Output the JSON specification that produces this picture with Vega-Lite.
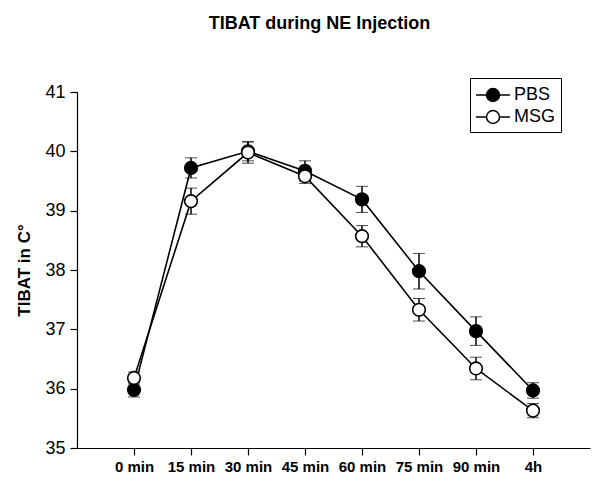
{
  "$schema": "https://vega.github.io/schema/vega-lite/v6.json",
  "width": 513,
  "height": 356,
  "autosize": {"type": "none"},
  "padding": {"left": 77, "top": 92, "right": 11, "bottom": 36},
  "background": "white",
  "title": {"text": "TIBAT during NE Injection", "fontSize": 18, "fontWeight": "bold", "font": "Liberation Sans", "color": "black", "anchor": "middle", "offset": 45, "dx": -14},
  "config": {
    "font": "Liberation Sans",
    "view": {"stroke": null},
    "axis": {"grid": false, "domainColor": "black", "tickColor": "black", "labelColor": "black", "titleColor": "black", "domainWidth": 1.2, "tickWidth": 1.2}
  },
  "data": {"values": [
    {"time": "0 min", "group": "PBS", "mean": 35.98, "sem": 0.12},
    {"time": "15 min", "group": "PBS", "mean": 39.72, "sem": 0.17},
    {"time": "30 min", "group": "PBS", "mean": 40.0, "sem": 0.16},
    {"time": "45 min", "group": "PBS", "mean": 39.67, "sem": 0.17},
    {"time": "60 min", "group": "PBS", "mean": 39.19, "sem": 0.22},
    {"time": "75 min", "group": "PBS", "mean": 37.98, "sem": 0.3},
    {"time": "90 min", "group": "PBS", "mean": 36.97, "sem": 0.24},
    {"time": "4h", "group": "PBS", "mean": 35.97, "sem": 0.13},
    {"time": "0 min", "group": "MSG", "mean": 36.18, "sem": 0.1},
    {"time": "15 min", "group": "MSG", "mean": 39.16, "sem": 0.22},
    {"time": "30 min", "group": "MSG", "mean": 39.98, "sem": 0.18},
    {"time": "45 min", "group": "MSG", "mean": 39.58, "sem": 0.12},
    {"time": "60 min", "group": "MSG", "mean": 38.57, "sem": 0.18},
    {"time": "75 min", "group": "MSG", "mean": 37.33, "sem": 0.19},
    {"time": "90 min", "group": "MSG", "mean": 36.34, "sem": 0.19},
    {"time": "4h", "group": "MSG", "mean": 35.63, "sem": 0.12}
  ]},
  "encoding": {
    "x": {"field": "time", "type": "ordinal", "sort": null,
      "scale": {"type": "point", "padding": 1},
      "axis": {"title": null, "labelAngle": 0, "labelFontSize": 15, "labelFontWeight": "bold", "tickSize": 7, "labelPadding": 4}},
    "y": {"field": "mean", "type": "quantitative", "title": "TIBAT in C°",
      "scale": {"domain": [35, 41], "zero": false, "nice": false},
      "axis": {"title": "TIBAT in C°", "format": "d", "titleFontSize": 17, "titleFontWeight": "bold", "titlePadding": 11, "labelFontSize": 18, "labelFontWeight": "normal", "tickSize": 7, "labelPadding": 5, "values": [35, 36, 37, 38, 39, 40, 41]}}
  },
  "layer": [
    {
      "mark": {"type": "errorbar", "ticks": {"size": 12, "color": "black", "strokeWidth": 1.5}, "rule": {"color": "black", "strokeWidth": 1.5}},
      "encoding": {
        "y": {"field": "mean", "type": "quantitative", "title": "TIBAT in C°"},
        "yError": {"field": "sem"},
        "detail": {"field": "group"}
      }
    },
    {
      "mark": {"type": "line", "color": "black", "strokeWidth": 1.6},
      "encoding": {
        "detail": {"field": "group"}
      }
    },
    {
      "mark": {"type": "point", "size": 160, "stroke": "black", "strokeWidth": 1.6, "filled": true, "opacity": 1},
      "encoding": {
        "fill": {"field": "group", "type": "nominal",
          "scale": {"domain": ["PBS", "MSG"], "range": ["black", "white"]},
          "legend": {"title": null, "orient": "none", "legendX": 393, "legendY": -14,
            "strokeColor": "black", "padding": 5, "labelFontSize": 18, "labelColor": "black",
            "symbolType": "M-1.55,0L-0.59,0M0.59,0L1.55,0M-0.59,0A0.59,0.59,0,1,1,0.59,0A0.59,0.59,0,1,1,-0.59,0Z",
            "symbolSize": 484, "symbolStrokeColor": "black", "symbolStrokeWidth": 1.5, "rowPadding": 0, "labelOffset": 9, "symbolOffset": 6,
            "encode": {"symbols": {"update": {
              "shape": {"value": "M-1.55,0L-0.59,0M0.59,0L1.55,0M-0.59,0A0.59,0.59,0,1,1,0.59,0A0.59,0.59,0,1,1,-0.59,0Z"},
              "size": {"value": 484},
              "stroke": {"value": "black"},
              "strokeWidth": {"value": 1.5}
            }}}}}
      }
    }
  ]
}
